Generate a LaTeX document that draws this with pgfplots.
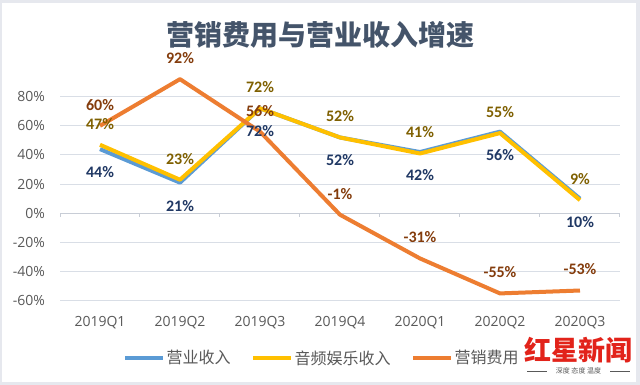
\documentclass[border=0pt]{standalone}
\usepackage{pgfplots}
\pgfplotsset{compat=1.18}
\usepackage{fontspec}
\setmainfont{Carlito}
\newfontfamily\cjk{Noto Sans CJK SC}
\newfontfamily\tickfont{Open Sans}
\definecolor{cblue}{HTML}{5B9BD5}
\definecolor{cyellow}{HTML}{FFC000}
\definecolor{corange}{HTML}{ED7D31}
\definecolor{lblue}{HTML}{203864}
\definecolor{lyellow}{HTML}{7F6000}
\definecolor{lorange}{HTML}{843C0C}
\definecolor{tickcol}{HTML}{595959}
\definecolor{gridcol}{HTML}{D9DEE6}
\definecolor{zerocol}{HTML}{C8CDD6}
\definecolor{titlecol}{HTML}{44546A}
\definecolor{framegray}{HTML}{E6E8EE}
\definecolor{wmred}{HTML}{E2231A}
\begin{document}
\begin{tikzpicture}[x=1pt,y=1pt]
\useasboundingbox (0,0) rectangle (640,385);
\fill[framegray] (0,0) rectangle (640,385);
\fill[white] (2,3) rectangle (636,382);
\node[font=\cjk\bfseries\fontsize{28}{32}\selectfont, text=titlecol] at (320,350) {营销费用与营业收入增速};
\begin{axis}[
  at={(60pt,77pt)}, anchor=south west,
  scale only axis, width=560pt, height=233.2pt,
  xmin=-0.5, xmax=6.5, ymin=-65, ymax=95,
  clip=false,
  axis line style={draw=none},
  tick style={draw=none},
  ymajorgrids,
  major grid style={gridcol, line width=1pt},
  xtick={0,...,6},
  xticklabels={2019Q1,2019Q2,2019Q3,2019Q4,2020Q1,2020Q2,2020Q3},
  ytick={-60,-40,...,80},
  /pgf/number format/assume math mode=true,
  yticklabel={\pgfmathprintnumber{\tick}\%},
  xticklabel style={font=\tickfont\fontsize{14}{17}\selectfont, text=tickcol, anchor=center, yshift=-15pt},
  yticklabel style={font=\tickfont\fontsize{14}{17}\selectfont, text=tickcol, anchor=east, inner sep=0pt, xshift=-15pt},
  legend columns=3,
  legend style={at={(0.467,-0.2144)}, anchor=center, draw=none, fill=none,
    font=\cjk\fontsize{16}{18}\selectfont, text=tickcol,
    /tikz/every even column/.append style={column sep=19pt},
    nodes={inner sep=1.5pt}},
  legend image code/.code={\draw[#1] (0pt,0pt) -- (38pt,0pt);},
  nodes near coords={\pgfmathprintnumber{\pgfplotspointmeta}\%},
  nodes near coords align=center,
]
\pgfplotsinvokeforeach{-0.5,0.5,1.5,2.5,3.5,4.5,5.5,6.5}{
  \draw[zerocol, line width=1pt] (axis cs:#1,0) -- ++(0pt,-4pt);
}
\draw[zerocol, line width=1pt] (axis cs:-0.5,0) -- (axis cs:6.5,0);
\addplot[cblue, line width=4pt, line join=round,
  every node near coord/.append style={anchor=center, yshift=-23pt, text=lblue, font=\bfseries\fontsize{16}{18}\selectfont}]
  coordinates {(0,44) (1,21) (2,72) (3,52) (4,42) (5,56) (6,10)};
\addlegendentry{营业收入}
\addplot[cyellow, line width=4pt, line join=round,
  every node near coord/.append style={anchor=center, yshift=21pt, text=lyellow, font=\bfseries\fontsize{16}{18}\selectfont}]
  coordinates {(0,47) (1,23) (2,72) (3,52) (4,41) (5,55) (6,9)};
\addlegendentry{音频娱乐收入}
\addplot[corange, line width=4pt, line join=round,
  every node near coord/.append style={anchor=center, yshift=21pt, text=lorange, font=\bfseries\fontsize{16}{18}\selectfont}]
  coordinates {(0,60) (1,92) (2,56) (3,-1) (4,-31) (5,-55) (6,-53)};
\addlegendentry{营销费用}
\end{axis}
\node[text=wmred, font=\cjk\bfseries\fontsize{27}{30}\selectfont] at (578,35) {红星新闻};
\draw[tickcol, line width=0.5pt] (527,14) -- (547,14);
\draw[tickcol, line width=0.5pt] (610,14) -- (630,14);
\node[text=tickcol, font=\cjk\fontsize{7}{8}\selectfont] at (578.5,14) {深度 态度 温度};
\end{tikzpicture}
\end{document}
